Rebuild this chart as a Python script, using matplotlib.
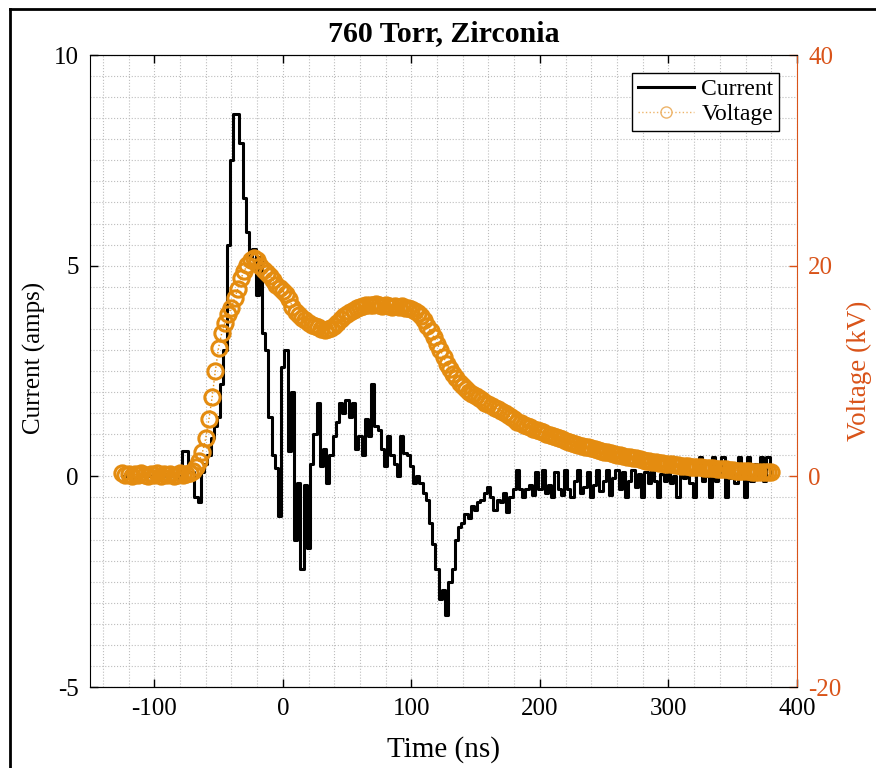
import numpy as np
import matplotlib
matplotlib.use("Agg")
import matplotlib.pyplot as plt
from matplotlib.lines import Line2D
from matplotlib.ticker import MultipleLocator

plt.rcParams['font.family'] = ['Liberation Serif', 'DejaVu Serif']
plt.rcParams['axes.unicode_minus'] = False

# sample grid of the scope trace (ns)
t_start = -125.0
dt = 2.5

# current (amps), one row = 25 ns
current = [
    0.0, 0.0, 0.05, 0.0, -0.05, 0.0, 0.0, 0.05, 0.0, 0.0,
    -0.05, 0.0, 0.0, 0.05, 0.0, 0.0, 0.0, -0.05, 0.0, 0.6,
    0.6, 0.1, 0.1, -0.5, -0.6, 0.1, 0.3, 0.5, 0.9, 1.2,
    1.4, 2.2, 3.0, 5.5, 7.5, 8.6, 8.6, 7.9, 6.6, 5.8,
    5.2, 5.4, 4.3, 5.2, 3.4, 3.0, 1.4, 0.5, 0.2, -0.95,
    2.6, 3.0, 0.6, 2.0, -1.5, -0.15, -2.2, -0.2, -1.7, 0.3,
    1.0, 1.75, 0.25, 0.65, -0.15, 0.5, 0.95, 1.3, 1.75, 1.5,
    1.8, 1.4, 1.75, 0.65, 0.95, 0.5, 1.35, 0.95, 2.2, 1.2,
    1.1, 0.65, 0.25, 0.95, 0.5, 0.3, 0.0, 0.95, 0.55, 0.5,
    0.25, -0.15, 0.0, -0.15, -0.4, -0.55, -1.1, -1.6, -2.2, -2.9,
    -2.7, -3.3, -2.5, -2.2, -1.5, -1.2, -1.1, -0.9, -1.0, -0.7,
    -0.8, -0.6, -0.55, -0.4, -0.25, -0.5, -0.8, -0.55, -0.6, -0.4,
    -0.85, -0.5, -0.3, 0.15, -0.3, -0.5, -0.3, -0.2, -0.45, 0.1,
    -0.3, 0.15, -0.4, -0.2, -0.5, 0.1, -0.3, -0.45, 0.15, -0.3,
    -0.5, -0.1, 0.15, -0.4, -0.25, 0.1, -0.5, -0.2, 0.15, -0.35,
    -0.1, 0.15, -0.45, -0.05, 0.15, -0.3, 0.1, -0.5, -0.1, 0.15,
    -0.25, 0.05, -0.5, 0.1, -0.15, 0.15, -0.1, -0.5, 0.05, -0.1,
    0.3, -0.15, 0.0, -0.5, 0.1, -0.05, 0.2, -0.15, -0.5, 0.05,
    0.45, -0.1, 0.0, -0.5, 0.45, -0.1, 0.05, 0.45, -0.5, -0.05,
    0.1, -0.15, 0.45, -0.05, -0.5, 0.45, -0.1, 0.3, -0.05, 0.45,
    -0.1, 0.45, 0.0,
]

# voltage (kV), same sampling
voltage = [
    0.3, 0.1, 0.2, 0.0, 0.2, 0.1, 0.3, 0.1, 0.0, 0.2,
    0.1, 0.3, 0.0, 0.2, 0.1, 0.2, 0.0, 0.1, 0.3, 0.1,
    0.2, 0.3, 0.5, 0.9, 1.5, 2.3, 3.6, 5.4, 7.5, 10.0,
    12.2, 13.6, 14.6, 15.4, 16.0, 16.9, 17.8, 18.8, 19.5, 20.1,
    20.5, 20.7, 20.5, 20.0, 19.6, 19.3, 19.0, 18.6, 18.2, 17.9,
    17.6, 17.3, 16.8, 16.1, 15.6, 15.3, 15.0, 14.8, 14.6, 14.4,
    14.3, 14.2, 14.0, 13.9, 14.0, 14.1, 14.3, 14.6, 14.9, 15.2,
    15.4, 15.6, 15.8, 16.0, 16.1, 16.2, 16.3, 16.3, 16.3, 16.4,
    16.3, 16.2, 16.3, 16.2, 16.1, 16.2, 16.1, 16.2, 16.0, 16.0,
    15.9, 15.7, 15.5, 15.2, 14.8, 14.3, 13.8, 13.2, 12.6, 12.0,
    11.3, 10.7, 10.2, 9.7, 9.3, 8.9, 8.6, 8.3, 8.0, 7.8,
    7.6, 7.4, 7.2, 7.0, 6.9, 6.7, 6.5, 6.4, 6.2, 6.0,
    5.8, 5.6, 5.4, 5.2, 5.1, 4.9, 4.8, 4.7, 4.5, 4.4,
    4.3, 4.2, 4.0, 3.9, 3.8, 3.7, 3.6, 3.5, 3.4, 3.3,
    3.2, 3.1, 3.0, 2.9, 2.8, 2.75, 2.7, 2.6, 2.5, 2.4,
    2.35, 2.3, 2.2, 2.1, 2.05, 2.0, 1.9, 1.85, 1.8, 1.75,
    1.7, 1.6, 1.55, 1.5, 1.45, 1.4, 1.35, 1.3, 1.25, 1.2,
    1.2, 1.15, 1.1, 1.05, 1.0, 1.0, 0.95, 0.9, 0.9, 0.85,
    0.85, 0.8, 0.8, 0.75, 0.75, 0.7, 0.7, 0.65, 0.65, 0.6,
    0.6, 0.55, 0.55, 0.5, 0.5, 0.5, 0.45, 0.45, 0.45, 0.4,
    0.4, 0.4, 0.4,
]

x_ticks = [-100, 0, 100, 200, 300, 400]
i_ticks = [-5, 0, 5, 10]
v_ticks = [-20, 0, 20, 40]

t = t_start + dt * np.arange(len(current))

v_axis_col = '#D95319'
v_line_col = '#E48C10'
fs = 18

fig = plt.figure(figsize=(8.76, 7.68), dpi=100)
ax = fig.add_axes([90/876, 1 - 687/768, 707/876, 632/768])

ax.plot(t, current, color='k', lw=2.2, drawstyle='steps-mid', label='Current')
ax.set_xlim(-150, 400)
ax.set_ylim(-5, 10)
ax.set_xticks(x_ticks)
ax.set_yticks(i_ticks)
ax.xaxis.set_minor_locator(MultipleLocator(20))
ax.yaxis.set_minor_locator(MultipleLocator(0.5))
ax.grid(which='both', color='#bdbdbd', ls=':', lw=0.8)
ax.tick_params(which='major', direction='in', length=6, width=1, labelsize=fs,
               top=True, pad=8)
ax.tick_params(which='minor', length=0)
ax.set_xlabel('Time (ns)', fontsize=21)
ax.set_ylabel('Current (amps)', fontsize=fs)
ax.yaxis.set_label_coords(-0.062, 0.52)
ax.xaxis.set_label_coords(0.5, -0.078)
ax.set_title('760 Torr, Zirconia', fontsize=21.5, fontweight='bold', pad=10)
ax.spines['right'].set_visible(False)

ax2 = ax.twinx()
ax2.plot(t, voltage, color=v_line_col, ls=':', lw=1.0, marker='o', ms=11,
         mfc='none', mec=v_line_col, mew=2.2, label='Voltage')
ax2.set_ylim(-20, 40)
ax2.set_yticks(v_ticks)
ax2.tick_params(direction='in', length=6, width=1, labelsize=fs,
                colors=v_axis_col, pad=8)
ax2.spines['right'].set_color(v_axis_col)
ax2.spines['left'].set_visible(False)
ax2.set_ylabel('Voltage (kV)', fontsize=19.5, color=v_axis_col)
ax2.yaxis.set_label_coords(1.07, 0.5)

handles = [Line2D([], [], color='k', lw=2.2),
           Line2D([], [], color='#EDB46A', ls=':', lw=1.0, marker='o', ms=8,
                  mfc='none', mec='#EDB46A')]
leg = ax2.legend(handles, ['Current', 'Voltage'], loc='upper right',
                 fontsize=17, fancybox=False, framealpha=1, edgecolor='k',
                 borderaxespad=0.75, handlelength=2.4, handletextpad=0.3,
                 borderpad=0.25, labelspacing=0.15)
leg.get_frame().set_linewidth(1.0)

# outer frame of the figure window
fig.add_artist(Line2D([10/876, 1], [1 - 9/768, 1 - 9/768], color='k', lw=2,
                      transform=fig.transFigure))
fig.add_artist(Line2D([10/876, 10/876], [0, 1 - 9/768], color='k', lw=2,
                      transform=fig.transFigure))

fig.savefig('out.png', dpi=100)
